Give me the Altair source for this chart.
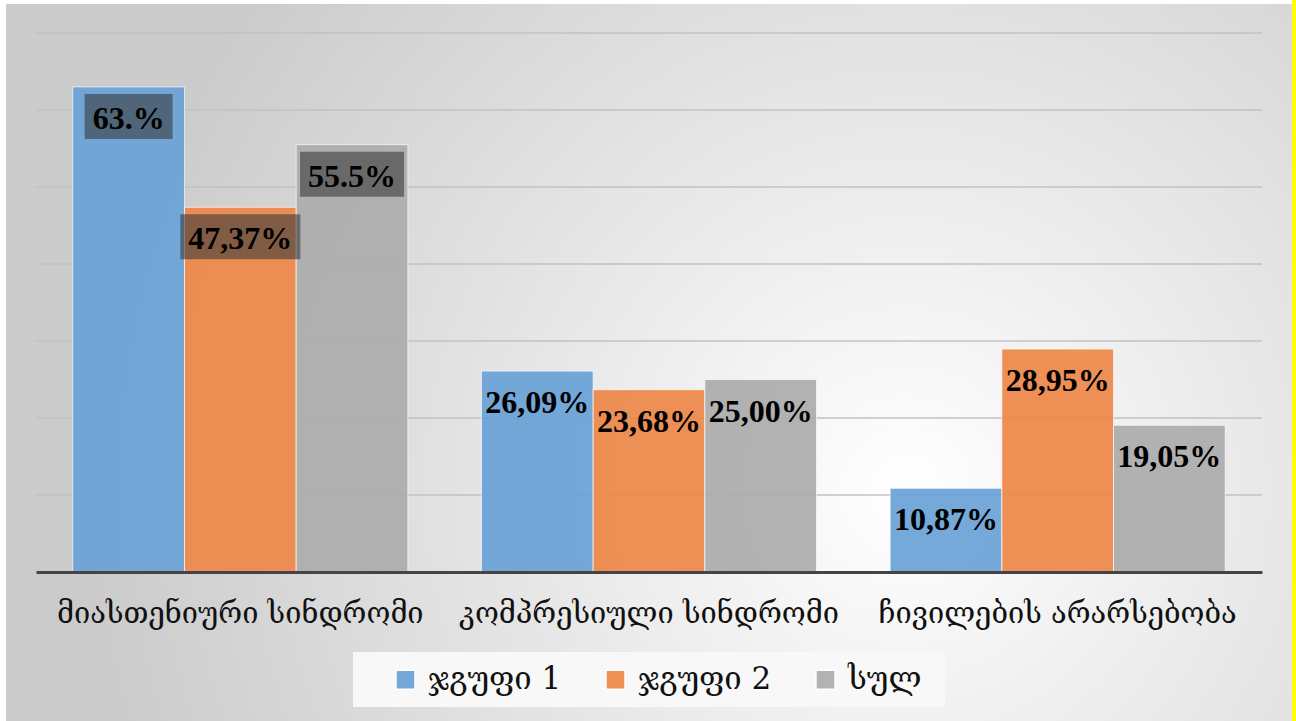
import altair as alt
import pandas as pd

categories = ["მიასთენიური სინდრომი", "კომპრესიული სინდრომი", "ჩივილების არარსებობა"]
series = ["ჯგუფი 1", "ჯგუფი 2", "სულ"]
group1 = [63.0, 26.09, 10.87]
group2 = [47.37, 23.68, 28.95]
total = [55.5, 25.00, 19.05]
labels_group1 = ["63.%", "26,09%", "10,87%"]
labels_group2 = ["47,37%", "23,68%", "28,95%"]
labels_total = ["55.5%", "25,00%", "19,05%"]
y_ticks = [10, 20, 30, 40, 50, 60, 70]

colors = ["#6aa3d7", "#ee894a", "#adadad"]
box_widths = {"ჯგუფი 1": 88, "ჯგუფი 2": 120, "სულ": 104}

rows = []
for s, vals, labs in zip(series, [group1, group2, total],
                         [labels_group1, labels_group2, labels_total]):
    for c, v, l in zip(categories, vals, labs):
        rows.append({"category": c, "series": s, "value": v, "label": l})
df = pd.DataFrame(rows)
grid_df = pd.DataFrame({"tick": y_ticks})

W, H = 1226, 539

x_enc = alt.X("category:N", sort=categories,
              scale=alt.Scale(paddingInner=0.18, paddingOuter=0.09),
              axis=alt.Axis(title=None, labelAngle=0, ticks=False, labelLimit=0,
                            labelFont="DejaVu Serif", labelFontSize=29,
                            labelColor="#111111", labelPadding=27,
                            domainColor="#444444", domainWidth=3, zindex=1))
xo_enc = alt.XOffset("series:N", sort=series)
y_scale = alt.Scale(domain=[0, 70], nice=False, zero=True)
y_enc = alt.Y("value:Q", scale=y_scale, axis=None)

background = alt.Chart(df).mark_rect(
    fill={"gradient": "radial", "x1": 0.7, "y1": 0.6, "r1": 0,
          "x2": 0.7, "y2": 0.6, "r2": 0.64,
          "stops": [{"offset": 0, "color": "#ffffff"},
                    {"offset": 1, "color": "#cbcbcb"}]}
).encode(x=alt.value(-30), x2=alt.value(1256), y=alt.value(-29), y2=alt.value(688))

strip = alt.Chart(df).mark_rect(fill="#ffff00").encode(
    x=alt.value(1256), x2=alt.value(1260), y=alt.value(-33), y2=alt.value(688))

legend_box = alt.Chart(df).mark_rect(fill="#f8f8f8", opacity=0.35).encode(
    x=alt.value(317), x2=alt.value(909), y=alt.value(619), y2=alt.value(674))

grid = alt.Chart(grid_df).mark_rule(color="#c2c2c2", strokeWidth=1.5).encode(
    y=alt.Y("tick:Q", scale=y_scale, axis=None),
    x=alt.value(0), x2=alt.value(W))

bars = alt.Chart(df).mark_bar(opacity=0.93, stroke="#ffffff", strokeWidth=1,
                              strokeOpacity=0.7).encode(
    x=x_enc, xOffset=xo_enc, y=y_enc,
    color=alt.Color("series:N", sort=series,
                    scale=alt.Scale(domain=series, range=colors),
                    legend=alt.Legend(title=None, orient="none", legendX=354,
                                      legendY=631, direction="horizontal",
                                      symbolType="square", symbolSize=361,
                                      labelFont="DejaVu Serif", labelFontSize=31,
                                      labelColor="#111111", labelOffset=7,
                                      columnPadding=38, padding=0, zindex=1,
                                      symbolOpacity=0.93)))

boxes = []
for s in series:
    w = box_widths[s]
    boxes.append(
        alt.Chart(df).transform_filter(
            (alt.datum.series == s) & (alt.datum.category == categories[0])
        ).mark_point(shape="M-1,-%fH1V%fH-1Z" % (45 / w, 45 / w), filled=True,
                     fill="#3a3a3a", fillOpacity=0.6, strokeWidth=0,
                     yOffset=29.5, opacity=1).encode(
            x=x_enc, xOffset=xo_enc, y=y_enc, size=alt.value(w * w))
    )

text = alt.Chart(df).mark_text(font="Liberation Serif", fontWeight="bold",
                               fontSize=32, color="#000000", baseline="alphabetic",
                               dy=42).encode(
    x=x_enc, xOffset=xo_enc, y=y_enc, text="label:N")

chart = alt.layer(background, strip, legend_box, grid, bars, *boxes, text).properties(
    width=W, height=H,
    autosize=alt.AutoSizeParams(type="none"),
    padding={"left": 36, "top": 33, "right": 34, "bottom": 149},
    background="#ffffff",
).configure_view(stroke=None)

chart.save("out.html", embed_options={"renderer": "svg", "actions": False})
